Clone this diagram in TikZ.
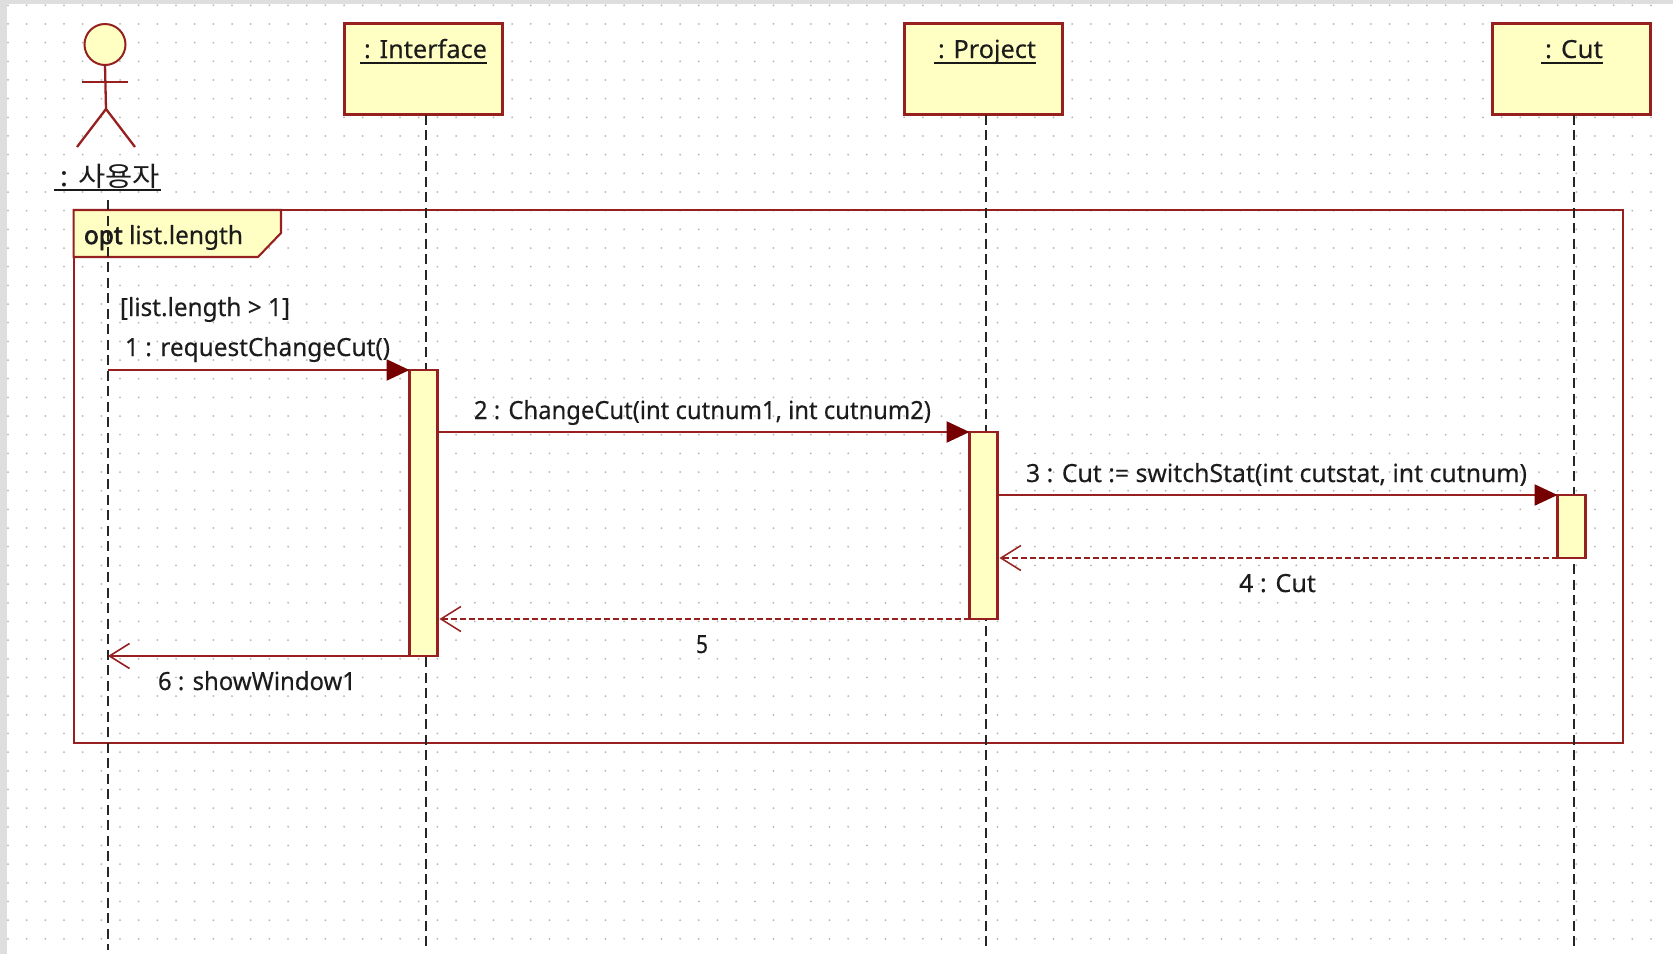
\documentclass[tikz,border=0pt]{standalone}
\usepackage{fontspec}
\usepackage{graphicx}
\setmainfont[FakeBold=0.25]{Noto Sans}
\newfontfamily\krfont{Noto Sans CJK KR}
\newfontfamily\optfont[FakeBold=2.6]{Noto Sans}
\usetikzlibrary{arrows.meta}
\definecolor{umlred}{HTML}{961F1F}
\definecolor{umlfill}{HTML}{FFFFC4}
\definecolor{umltip}{HTML}{760000}
\definecolor{umltext}{HTML}{1C1C1C}
\definecolor{griddot}{HTML}{B4B4B4}
\definecolor{outer}{HTML}{DEDEDE}
\newcommand{\fitw}[2]{\resizebox{#1pt}{\height}{#2}}
\tikzset{
  x=1pt,y=-1pt,
  every node/.style={inner sep=0pt,outer sep=0pt},
  objbox/.style={draw=umlred,fill=umlfill,line width=2.1pt,minimum width=158pt,minimum height=91pt},
  actbox/.style={draw=umlred,fill=umlfill,line width=2.1pt,minimum width=28pt},
  lifeline/.style={draw=black!85,line width=1.7pt,dash pattern=on 10pt off 5.5pt},
  frameline/.style={draw=umlred,line width=2.1pt},
  msg/.style={draw=umlred,line width=2.3pt},
  sync/.style={msg,-{Triangle[length=23pt,width=21pt,fill=umltip,color=umltip]}},
  reply/.style={msg,dash pattern=on 5.5pt off 3.5pt,shorten >=2pt,-{Straight Barb[length=20pt,width=25pt,line width=1.5pt,color=umlred]}},
  ret/.style={msg,-{Straight Barb[length=20pt,width=25pt,line width=1.6pt,color=umlred]}},
  lbl/.style={text=umltext,font=\fontsize{25}{30}\selectfont,anchor=base west},
  uline/.style={draw=black!90,line width=1.6pt},
}
\begin{document}
\begin{tikzpicture}
\useasboundingbox (0,0) rectangle (1673,954);
\fill[outer] (0,0) rectangle (1673,954);
\fill[white] (7,4) rectangle (1673,954);
\foreach \i in {0,...,88}{\foreach \j in {0,...,50}{
  \fill[griddot] ({8+18.67*\i},{5.3+18.67*\j}) circle (1pt);}}

% frame
\draw[frameline] (73.6,210) rectangle (1623,743);
\draw[frameline,fill=umlfill] (73.6,210) -- (281,210) -- (281,233) -- (258,257) -- (73.6,257) -- cycle;

% objects
\node[objbox] (oI) at (423.5,69) {};
\node[objbox] (oP) at (983.5,69) {};
\node[objbox] (oC) at (1571.5,69) {};

% actor
\node[circle,draw=umlred,fill=umlfill,line width=2pt,minimum size=41pt] (head) at (105,44.5) {};
\coordinate (hip) at (106,109);
\coordinate (armL) at (82,82);
\coordinate (armR) at (128,82);
\coordinate (legL) at (77,147);
\coordinate (legR) at (135,147);
\draw[msg] (head.south) -- (hip);
\draw[msg] (armL) -- (armR);
\draw[msg] (legL) -- (hip) -- (legR);
\node[anchor=base west,text=umltext,font=\fontsize{27}{30}\selectfont] (tA) at (60,186) {\fitw{100}{: {\krfont 사용자}}};
\coordinate (uA1) at (54,190);
\coordinate (uA2) at (161,190);
\draw[uline] (uA1) -- (uA2);

% lifelines
\coordinate (lA1) at (108,200);
\coordinate (lA2) at (108,950);
\coordinate (lI2) at (426,950);
\coordinate (lP2) at (986,950);
\coordinate (lC2) at (1574,950);
\draw[lifeline] (lA1) -- (lA2);
\draw[lifeline] (oI.south -| lI2) -- (lI2);
\draw[lifeline] (oP.south -| lP2) -- (lP2);
\draw[lifeline] (oC.south -| lC2) -- (lC2);

% activations
\node[actbox,minimum height=286pt] (aI) at (423.5,513) {};
\node[actbox,minimum height=187pt] (aP) at (983.5,525.5) {};
\node[actbox,minimum height=63pt] (aC) at (1571.5,526.5) {};

% messages
\coordinate (m1s) at (108,370);
\coordinate (m6e) at (108,656);
\draw[sync] (m1s) -- (aI.north west);
\draw[sync] (aI.east |- aP.north) -- (aP.north west);
\draw[sync] (aP.east |- aC.north) -- (aC.north west);
\draw[reply] (aC.south west) -- (aP.east |- aC.south);
\draw[reply] (aP.south west) -- (aI.east |- aP.south);
\draw[ret] (aI.south west) -- (m6e);

% object labels
\node[lbl] (tI) at (364,58) {\fitw{123}{: Interface}};
\draw[uline] (360,63) -- (487,63);
\node[lbl] (tP) at (938,58) {\fitw{98}{: Project}};
\draw[uline] (934,63) -- (1036,63);
\node[lbl] (tC) at (1545,58) {\fitw{58}{: Cut}};
\draw[uline] (1541,63) -- (1603,63);

% frame and message labels
\node[lbl] (tOpt) at (84,244) {\fitw{159}{{\optfont opt} list.length}};
\node[lbl] (tG) at (120,316) {\fitw{170}{[list.length > 1]}};
\node[lbl] (t1) at (125,356) {\fitw{265}{1 : requestChangeCut()}};
\node[lbl] (t2) at (474,419) {\fitw{457}{2 : ChangeCut(int cutnum1, int cutnum2)}};
\node[lbl] (t3) at (1026,482) {\fitw{501}{3 : Cut := switchStat(int cutstat, int cutnum)}};
\node[lbl] (t4) at (1239,592) {\fitw{77}{4 : Cut}};
\node[lbl] (t5) at (696,653) {\fitw{12}{5}};
\node[lbl] (t6) at (158,690) {\fitw{198}{6 : showWindow1}};
\end{tikzpicture}
\end{document}
